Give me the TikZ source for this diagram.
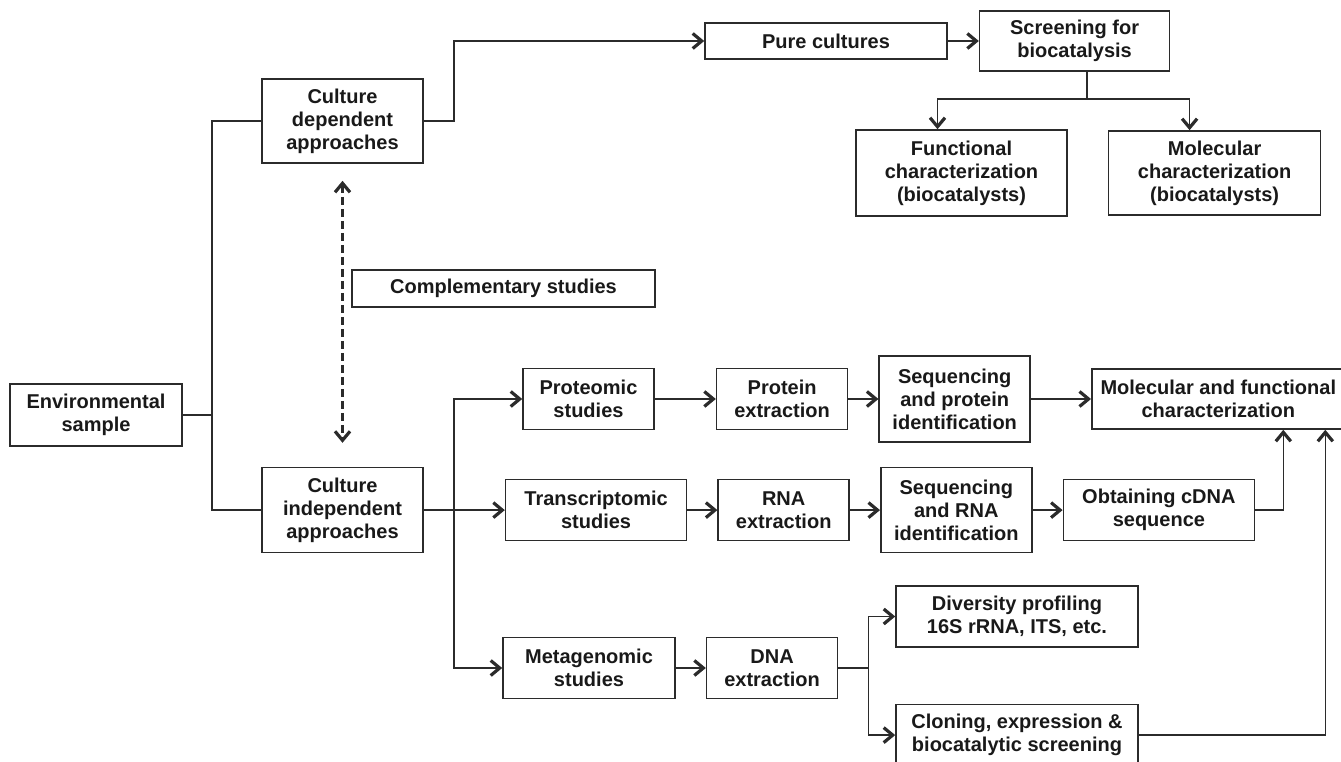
\documentclass[tikz,border=0pt]{standalone}
\usepackage{fontspec}
\setmainfont{Liberation Sans}
\usetikzlibrary{arrows.meta,positioning}
\definecolor{ink}{HTML}{2B2B2B}
\tikzset{
    box/.style={draw=ink,line width=1.6pt,align=center,inner sep=0pt,
        font=\fontsize{20}{23}\selectfont\bfseries,text=black!90},
    link/.style={draw=ink,line width=1.6pt},
    flow/.style={-{Straight Barb[length=9pt,width=15pt,line width'=3.2pt]},draw=ink,line width=1.6pt},
    both/.style={{Straight Barb[length=9pt,width=15pt,line width'=3.2pt]}-{Straight Barb[length=9pt,width=15pt,line width'=3.2pt]},
        draw=ink,line width=3pt,dash pattern=on 8pt off 4pt}
}

\begin{document}
\begin{tikzpicture}[x=1pt,y=-1pt]
    \useasboundingbox (0,0) rectangle (1341,762);

    % left side
    \node[box,minimum width=172pt,minimum height=62pt] (env) at (96,415) {Environmental\\sample};
    \node[box,minimum width=161pt,minimum height=84pt] (cdep) at (342.5,121) {Culture\\dependent\\approaches};
    \node[box,minimum width=161pt,minimum height=85pt] (cindep) [below=303pt of cdep] {Culture\\independent\\approaches};
    \node[box,minimum width=303pt,minimum height=37pt] (compl) at (503.5,288.5) {Complementary studies};

    % culture dependent branch
    \node[box,minimum width=242pt,minimum height=36pt] (pure) at (826,41) {Pure cultures};
    \node[box,minimum width=190pt,minimum height=60pt] (screen) [right=31pt of pure] {Screening for\\biocatalysis};
    \node[box,minimum width=211pt,minimum height=86pt] (func) at (961.5,173) {Functional\\characterization\\(biocatalysts)};
    \node[box,minimum width=212pt,minimum height=84pt] (molc) [right=40pt of func] {Molecular\\characterization\\(biocatalysts)};

    % proteomic row
    \node[box,minimum width=131pt,minimum height=61pt] (prot) at (588.5,399) {Proteomic\\studies};
    \node[box,minimum width=131pt,minimum height=61pt] (protx) [right=61pt of prot] {Protein\\extraction};
    \node[box,minimum width=151pt,minimum height=86pt] (seqp) [right=30pt of protx] {Sequencing\\and protein\\identification};
    \node[box,minimum width=253pt,minimum height=60pt] (molfun) [right=60pt of seqp] {Molecular and functional\\characterization};

    % transcriptomic row
    \node[box,minimum width=181pt,minimum height=61pt] (trans) [right=81pt of cindep] {Transcriptomic\\studies};
    \node[box,minimum width=131pt,minimum height=61pt] (rnax) [right=30pt of trans] {RNA\\extraction};
    \node[box,minimum width=151pt,minimum height=85pt] (seqr) [right=30pt of rnax] {Sequencing\\and RNA\\identification};
    \node[box,minimum width=191pt,minimum height=61pt] (cdna) [right=30pt of seqr] {Obtaining cDNA\\sequence};

    % metagenomic row
    \node[box,minimum width=172pt,minimum height=61pt] (meta) at (589,668) {Metagenomic\\studies};
    \node[box,minimum width=131pt,minimum height=61pt] (dnax) [right=30pt of meta] {DNA\\extraction};
    \node[box,minimum width=242pt,minimum height=61pt] (div) at (1017,616.5) {Diversity profiling\\16S rRNA, ITS, etc.};
    \node[box,minimum width=242pt,minimum height=61pt] (clon) [below=56pt of div] {Cloning, expression \&\\biocatalytic screening};

    % split points
    \coordinate (lsplit) at (212,415);
    \coordinate (rsplit) at ([xshift=30pt]cindep.east);
    \coordinate (ssplit) at (1087,99);
    \coordinate (dsplit) at ([xshift=30pt]dnax.east);

    % connectors
    \draw[link] (env.east) -- (lsplit);
    \draw[link] (cdep.west) -| (lsplit) |- (cindep.west);
    \draw[both] ([yshift=-17pt]cdep.south) -- ([yshift=24pt]cindep.north);

    \draw[flow] (cdep.east) -- ++(30,0) |- (pure.west);
    \draw[flow] (pure) -- (screen);
    \draw[link] (screen.south -| ssplit) -- (ssplit);
    \draw[flow] (ssplit) -| ([xshift=-24pt]func.north);
    \draw[flow] (ssplit) -| ([xshift=-25pt]molc.north);

    \draw[flow] (cindep) -- (trans);
    \draw[flow] (rsplit) |- (prot.west);
    \draw[flow] (rsplit) |- (meta.west);

    \draw[flow] (prot) -- (protx);
    \draw[flow] (protx) -- (seqp);
    \draw[flow] (seqp) -- (molfun);

    \draw[flow] (trans) -- (rnax);
    \draw[flow] (rnax) -- (seqr);
    \draw[flow] (seqr) -- (cdna);
    \draw[flow] (cdna.east) -| ([xshift=65pt]molfun.south);

    \draw[flow] (meta) -- (dnax);
    \draw[link] (dnax.east) -- (dsplit);
    \draw[flow] (dsplit) |- (div.west);
    \draw[flow] (dsplit) |- (clon.west);
    \draw[flow] (clon.east) -| ([xshift=107pt]molfun.south);
\end{tikzpicture}
\end{document}
